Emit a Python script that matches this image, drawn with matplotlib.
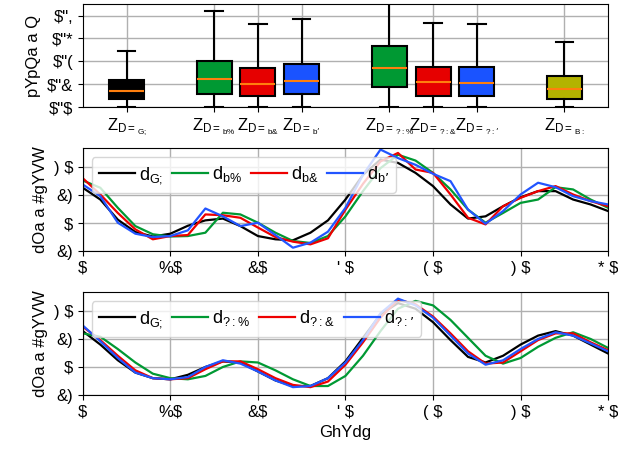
import numpy as np
import matplotlib
matplotlib.use("Agg")
import matplotlib.pyplot as plt

plt.rcParams['font.family'] = ['Liberation Sans', 'DejaVu Sans']
plt.rcParams['mathtext.default'] = 'regular'

# box plot data (whisker low, q1, median, q3, whisker high)
box_pos = [0, 2, 3, 4, 6, 7, 8, 10]
box_labels = [r"Z$_{D{=}_{G;}}$", r"Z$_{D{=}_{b\%}}$", r"Z$_{D{=}_{b&}}$", "Z$_{D{=}_{b\u2019}}$",
              r"Z$_{D{=}_{?:\%}}$", r"Z$_{D{=}_{?:&}}$", "Z$_{D{=}_{?:\u2019}}$", r"Z$_{D{=}_{B:}}$"]
box_colors = ['#000000', '#009933', '#e60000', '#1a53ff',
              '#009933', '#e60000', '#1a53ff', '#b3b300']
whislo = [0.0, 0.0, 0.0, 0.0, 0.0, 0.0, 0.0, 0.0]
q1 = [0.068, 0.117, 0.094, 0.114, 0.173, 0.099, 0.099, 0.073]
med = [0.143, 0.246, 0.204, 0.228, 0.339, 0.216, 0.213, 0.158]
q3 = [0.237, 0.406, 0.345, 0.374, 0.538, 0.354, 0.348, 0.272]
whishi = [0.49, 0.836, 0.725, 0.769, 0.98, 0.734, 0.728, 0.570]
box_yticks = [0.0, 0.2, 0.4, 0.6, 0.8]
box_yticklabels = ['\\$"\\$', '\\$"&', '\\$"(', '\\$"*', '\\$",']

# time series
steps = np.arange(0, 61, 2)
top_sg = [31.5, 21, 3, -8, -12, -9.5, -2.4, 2.4, 4, -2.7, -11.6, -14.5, -15.4, -8.6, 2.4, 21,
          43, 56.7, 53.7, 44.8, 33, 16.6, 4, 6, 15, 23, 28.5, 28.5, 21, 16.6, 10.7]
top_n1 = [38, 31.5, 13.6, -2.7, -10, -12, -11.6, -8.6, 9.2, 7.7, 0.3, -8.6, -16, -17.8, -11.6, 6,
          28.5, 49, 61, 55.8, 44.8, 30, 12, 0.3, 9, 18, 21, 32, 30, 21, 13.6]
top_n2 = [40, 25.5, 9, -5.6, -14.5, -11.6, -10.7, 7.7, 7, 4.7, -4, -12.5, -16.6, -19, -13.6, 12,
          35, 55, 62.6, 47.8, 44.8, 25.5, 4.7, -1.2, 15, 22.5, 28.5, 33, 25.5, 19.6, 15]
top_n3 = [34.4, 24, 0.3, -9.5, -12.5, -11.6, -6.5, 13, 6, -2.7, 0.3, -10.7, -22, -17.5, -7.7, 13.6,
          43, 65.6, 58, 52, 44, 37.4, 12, -0.6, 10.7, 25.5, 36, 32, 24, 19.6, 16.6]
bot_sg = [32, 20, 6, -5, -10, -11, -7, 0, 5, 4, -4, -12, -17, -17, -10, 5,
          26, 47, 57, 52, 40, 24, 9, 4, 10, 20, 28, 32, 28, 20, 12]
bot_kf1 = [30, 27, 16, 4, -6, -10, -11, -8, 0, 5, 4, -3, -11, -17, -17, -8,
           10, 32, 52, 59, 55, 42, 26, 10, 3, 8, 18, 26, 31, 25, 17]
bot_kf2 = [36, 24, 10, -3, -10, -11, -10, -2, 5, 5, -2, -10, -16, -18, -13, 2,
           22, 44, 60, 56, 45, 30, 14, 3, 4, 14, 24, 30, 30, 22, 15]
bot_kf3 = [37, 23, 8, -5, -10, -11, -9, 0, 6, 3, -4, -12, -18, -17, -10, 4,
           24, 48, 61, 55, 44, 28, 12, 2, 6, 16, 25, 31, 28, 21, 14]

line_colors = ['#000000', '#009933', '#ee0000', '#2255ff']
top_labels = [r"d$_{G;}$", r"d$_{b\%}$", r"d$_{b&}$", "d$_{b\u2019}$"]
bot_labels = [r"d$_{G;}$", r"d$_{?:\%}$", r"d$_{?:&}$", "d$_{?:\u2019}$"]
xticks = [0, 10, 20, 30, 40, 50, 60]
xticklabels = ['\\$', '%\\$', '&\\$', "' \\$", '( \\$', ') \\$', '* \\$']
yticks = [-25, 0, 25, 50]
yticklabels = ['&)', '\\$', '&)', ') \\$']

fig = plt.figure(figsize=(6.18, 4.54), dpi=100)
ax0 = fig.add_axes([0.134, 0.764, 0.850, 0.227])
ax1 = fig.add_axes([0.134, 0.447, 0.850, 0.227])
ax2 = fig.add_axes([0.134, 0.130, 0.850, 0.227])

stats = []
for i in range(len(box_pos)):
    stats.append(dict(whislo=whislo[i], q1=q1[i], med=med[i], q3=q3[i],
                      whishi=whishi[i], fliers=[]))
bp = ax0.bxp(stats, positions=box_pos, widths=0.8, patch_artist=True,
             showfliers=False,
             boxprops=dict(linewidth=1.5, edgecolor='black'),
             whiskerprops=dict(linewidth=1.5),
             capprops=dict(linewidth=1.5),
             medianprops=dict(color='#ff7f0e', linewidth=1.5))
for patch, c in zip(bp['boxes'], box_colors):
    patch.set_facecolor(c)
ax0.set_xlim(-1, 11)
ax0.set_ylim(0, 0.9)
ax0.set_xticks(box_pos)
ax0.set_xticklabels(box_labels, fontsize=12)
ax0.set_yticks(box_yticks)
ax0.set_yticklabels(box_yticklabels, fontsize=12)
ax0.set_ylabel("pYpQa a Q", fontsize=12)
ax0.grid(True, color='#b0b0b0', linewidth=1)
ax0.set_axisbelow(True)

for ax, series, labels in [(ax1, [top_sg, top_n1, top_n2, top_n3], top_labels),
                           (ax2, [bot_sg, bot_kf1, bot_kf2, bot_kf3], bot_labels)]:
    for s, c, lab in zip(series, line_colors, labels):
        ax.plot(steps, s, color=c, linewidth=1.6, label=lab)
    ax.set_xlim(0, 60)
    ax.set_ylim(-25, 67)
    ax.set_xticks(xticks)
    ax.set_xticklabels(xticklabels, fontsize=12)
    ax.set_yticks(yticks)
    ax.set_yticklabels(yticklabels, fontsize=12)
    ax.set_ylabel("dOa a #gYVW", fontsize=12)
    ax.grid(True, color='#b0b0b0', linewidth=1)
    ax.legend(loc='upper left', ncol=4, fontsize=13, handlelength=2,
              columnspacing=0.5, handletextpad=0.2, borderpad=0.4)

ax2.set_xlabel("GhYdg", fontsize=12)

fig.savefig("out.png", dpi=100)
